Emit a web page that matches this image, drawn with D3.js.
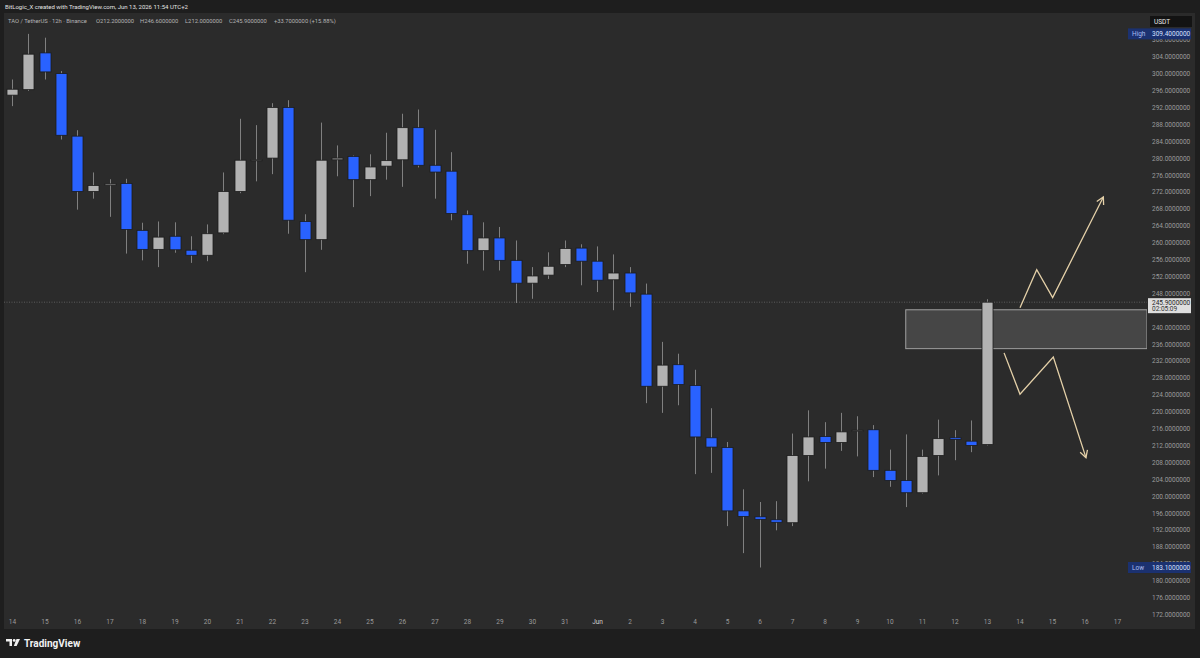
<!DOCTYPE html>
<html>
<head>
<meta charset="utf-8">
<script src="https://cdn.jsdelivr.net/npm/d3@7"></script>
<style>
html,body{margin:0;padding:0;background:#1e1e1e;}
svg{display:block;font-family:Roboto,"Liberation Sans",sans-serif;}
</style>
</head>
<body>
<svg id="chart"></svg>
<script>
// TAO / TetherUS 12h candles, May 14 00:00 -> Jun 13 00:00
var opens  = [294.9,296.2,304.9,300.0,285.2,272.1,273.6,274.0,262.9,258.4,
              261.5,258.2,257.0,262.3,272.1,279.5,280.0,292.0,265.0,260.7,
              279.6,280.4,274.9,278.1,279.6,287.2,278.3,276.9,266.6,258.1,
              261.1,255.8,250.4,252.3,254.8,258.7,255.6,251.2,252.8,247.8,
              226.0,231.1,226.2,213.8,211.5,196.5,195.1,194.4,193.7,209.6,
              214.1,212.7,215.5,215.7,206.1,203.7,200.8,209.6,213.8,213.0,
              212.2];
var highs  = [298.6,309.4,308.5,300.6,286.6,276.6,275.0,275.1,264.7,265.0,
              264.8,261.5,264.3,276.6,289.3,287.8,293.0,293.7,266.7,288.4,
              283.0,280.6,280.9,286.0,290.5,291.5,286.7,281.4,267.6,264.8,
              263.7,260.5,254.2,257.7,260.5,259.6,259.1,257.2,254.2,250.3,
              236.5,233.7,229.9,220.8,212.8,201.6,198.6,198.8,214.8,220.3,
              217.5,219.7,218.9,216.8,211.0,214.6,211.0,218.1,215.6,217.9,
              246.6];
var lows   = [292.3,295.9,298.6,284.4,267.8,270.4,266.1,257.4,255.8,254.2,
              257.6,255.2,255.6,262.0,271.7,274.5,276.2,262.1,253.0,258.3,
              275.7,268.4,271.0,274.9,273.2,277.8,270.4,265.3,255.0,253.4,
              253.4,245.7,246.7,251.4,254.2,249.9,248.3,244.0,244.8,222.0,
              219.7,221.5,205.2,205.5,192.9,186.5,183.1,191.9,192.9,203.5,
              206.5,210.7,209.4,204.5,202.2,197.4,200.6,204.9,208.5,210.4,
              212.0];
var closes = [296.3,304.6,300.4,285.4,272.1,273.5,273.9,263.1,258.4,261.3,
              258.3,257.0,262.1,272.1,279.5,279.6,292.0,265.3,260.7,279.5,
              280.0,274.9,277.9,279.4,287.2,278.3,276.7,266.9,258.1,261.1,
              255.8,250.4,252.1,254.4,258.6,255.6,251.1,252.8,248.1,226.0,
              231.0,226.4,214.0,211.6,196.5,195.2,194.5,193.8,209.6,214.0,
              212.7,215.2,215.6,206.1,203.7,200.8,209.4,213.6,213.4,212.0,
              245.9];

// one label per day (every second 12h slot)
var dayLabels = ["14","15","16","17","18","19","20","21","22","23","24","25",
                 "26","27","28","29","30","31","Jun","2","3","4","5","6","7",
                 "8","9","10","11","12","13","14","15","16","17"];
// 244 sits under the last price label, so it is left out like on the reference
var priceTicks = [172,176,180,184,188,192,196,200,204,208,212,216,220,224,228,
                  232,236,240,248,252,256,260,264,268,272,276,280,284,288,
                  292,296,300,304,308];

// drawings: [slot index, price]
var zoneBox = {from:55, top:244.1, bottom:234.9};
var upPath   = [[62.03,244.6],[63.06,253.6],[64.04,247.0],[67.16,270.8]];
var downPath = [[61.05,233.9],[62.03,224.1],[64.08,232.9],[66.09,209.1]];

var lastPrice = 245.9;
var highMark = 309.4, lowMark = 183.1;

var W = 1200, H = 658;
var plot = {left:4, top:13, right:1147, bottom:617};

var blue = "#2962ff", grey = "#b2b2b2";

var svg = d3.select("#chart").attr("width", W).attr("height", H);

// backgrounds
svg.append("rect").attr("width", W).attr("height", H).attr("fill", "#1e1e1e");
svg.append("rect")
    .attr("x", plot.left).attr("y", plot.top)
    .attr("width", 1195 - plot.left).attr("height", 629 - plot.top)
    .attr("fill", "#2b2b2b");

var x = d3.scaleLinear().domain([0, 68]).range([12, 1117]);
var y = d3.scaleLinear().domain([172, 308]).range([614.4, 39.8]);

var defs = svg.append("defs");
defs.append("clipPath").attr("id", "plotclip")
    .append("rect")
    .attr("x", plot.left).attr("y", plot.top)
    .attr("width", plot.right - plot.left).attr("height", plot.bottom - plot.top);
defs.append("clipPath").attr("id", "axisclip")
    .append("rect")
    .attr("x", plot.right).attr("y", plot.top)
    .attr("width", 1195 - plot.right).attr("height", plot.bottom - plot.top);

var g = svg.append("g").attr("clip-path", "url(#plotclip)");

// last price dotted line
g.append("line")
    .attr("x1", plot.left).attr("x2", plot.right)
    .attr("y1", y(lastPrice)).attr("y2", y(lastPrice))
    .attr("stroke", "#6a6a6a")
    .attr("stroke-width", 0.8)
    .attr("stroke-dasharray", "1,1.5");

// zone rectangle
g.append("rect")
    .attr("x", x(zoneBox.from))
    .attr("y", y(zoneBox.top))
    .attr("width", plot.right - x(zoneBox.from))
    .attr("height", y(zoneBox.bottom) - y(zoneBox.top))
    .attr("fill", "#464646")
    .attr("stroke", "#a0a0a0")
    .attr("stroke-width", 1);

var idx = d3.range(opens.length);

// wicks
g.selectAll(".wick")
    .data(idx)
    .enter()
    .append("line")
    .attr("class", "wick")
    .attr("x1", function(i){ return Math.round(x(i)) + 0.5; })
    .attr("x2", function(i){ return Math.round(x(i)) + 0.5; })
    .attr("y1", function(i){ return y(highs[i]); })
    .attr("y2", function(i){ return y(lows[i]); })
    .attr("stroke", "#808080")
    .attr("stroke-width", 1);

// bodies
var bw = 11;
g.selectAll(".body")
    .data(idx)
    .enter()
    .append("rect")
    .attr("class", "body")
    .attr("x", function(i){ return Math.round(x(i)) + 0.5 - bw/2; })
    .attr("y", function(i){ return y(Math.max(opens[i], closes[i])); })
    .attr("width", bw)
    .attr("height", function(i){
        return Math.max(1, Math.abs(y(opens[i]) - y(closes[i])));
    })
    .attr("fill", function(i){ return closes[i] >= opens[i] ? grey : blue; })
    .attr("stroke", "#1c1c1c")
    .attr("stroke-width", 0.8);

// projection arrows
var line = d3.line()
    .x(function(d){ return x(d[0]); })
    .y(function(d){ return y(d[1]); });

var drawArrow = function(pts)
{
    g.append("path")
        .attr("d", line(pts))
        .attr("fill", "none")
        .attr("stroke", "#e4d0a8")
        .attr("stroke-width", 1.3);
    var a = pts[pts.length - 2], b = pts[pts.length - 1];
    var x1 = x(a[0]), y1 = y(a[1]), x2 = x(b[0]), y2 = y(b[1]);
    var ang = Math.atan2(y2 - y1, x2 - x1);
    var len = 8, spread = 0.5;
    var head = [
        [x2 - len*Math.cos(ang - spread), y2 - len*Math.sin(ang - spread)],
        [x2, y2],
        [x2 - len*Math.cos(ang + spread), y2 - len*Math.sin(ang + spread)]
    ];
    g.append("path")
        .attr("d", d3.line()(head))
        .attr("fill", "none")
        .attr("stroke", "#e4d0a8")
        .attr("stroke-width", 1.3);
};
drawArrow(upPath);
drawArrow(downPath);

// price axis
var yAxis = d3.axisRight(y)
    .tickValues(priceTicks)
    .tickSize(0)
    .tickPadding(5)
    .tickFormat(d3.format(".7f"));

var ya = svg.append("g")
    .attr("clip-path", "url(#axisclip)")
    .append("g")
    .attr("transform", "translate(" + plot.right + ",0)")
    .call(yAxis);
ya.select(".domain").remove();
ya.selectAll("text")
    .attr("fill", "#9c9c9c")
    .attr("font-size", "6.5px")
    .attr("font-family", "Roboto, sans-serif");

// time axis
var tickIdx = dayLabels.map(function(d, k){ return k*2; });
var xAxis = d3.axisBottom(x)
    .tickValues(tickIdx)
    .tickSize(0)
    .tickPadding(0)
    .tickFormat(function(d){ return dayLabels[d/2]; });

var xa = svg.append("g")
    .attr("transform", "translate(0,619)")
    .call(xAxis);
xa.select(".domain").remove();
xa.selectAll("text")
    .attr("fill", function(d){ return dayLabels[d/2] == "Jun" ? "#d0d0d0" : "#9c9c9c"; })
    .attr("font-size", "6.5px")
    .attr("font-family", "Roboto, sans-serif");

// high / low markers
var markBox = function(label, price)
{
    var cy = y(price);
    svg.append("rect")
        .attr("x", 1128).attr("y", cy - 5.5)
        .attr("width", 63).attr("height", 11)
        .attr("fill", "#1b3170");
    svg.append("text")
        .attr("x", 1132).attr("y", cy + 2.3)
        .attr("fill", "#a9bdf0")
        .attr("font-size", "6.5px")
        .text(label);
    svg.append("text")
        .attr("x", plot.right + 5).attr("y", cy + 2.3)
        .attr("fill", "#d6e0ff")
        .attr("font-size", "6.5px")
        .text(d3.format(".7f")(price));
};
markBox("High", highMark);
markBox("Low", lowMark);

// last price label
var ly = y(lastPrice);
svg.append("rect")
    .attr("x", 1148).attr("y", ly - 4)
    .attr("width", 43).attr("height", 15)
    .attr("fill", "#dedede");
svg.append("text")
    .attr("x", 1152).attr("y", ly + 2.4)
    .attr("fill", "#1e1e1e")
    .attr("font-size", "6.5px")
    .text(d3.format(".7f")(lastPrice));
svg.append("text")
    .attr("x", 1152).attr("y", ly + 9.2)
    .attr("fill", "#333")
    .attr("font-size", "6.5px")
    .text("02:05:09");

// currency box
svg.append("rect")
    .attr("x", 1150).attr("y", 16)
    .attr("width", 42).attr("height", 11)
    .attr("fill", "#131313");
svg.append("text")
    .attr("x", 1154).attr("y", 23.8)
    .attr("fill", "#e8e8e8")
    .attr("font-size", "6.5px")
    .text("USDT");

// header texts
svg.append("text")
    .attr("x", 5).attr("y", 8.8)
    .attr("fill", "#e2e2e2")
    .attr("font-size", "6px")
    .text("BitLogic_X created with TradingView.com, Jun 13, 2026 11:54 UTC+2");

var legend = [
    {x:8,   t:"TAO / TetherUS \u00b7 12h \u00b7 Binance"},
    {x:96,  t:"O212.2000000"},
    {x:140, t:"H246.6000000"},
    {x:185, t:"L212.0000000"},
    {x:229, t:"C245.9000000"},
    {x:274, t:"+33.7000000 (+15.88%)"}
];
svg.selectAll(".legend")
    .data(legend)
    .enter()
    .append("text")
    .attr("class", "legend")
    .attr("x", function(d){ return d.x; })
    .attr("y", 22.8)
    .attr("fill", "#b4b4b4")
    .attr("font-size", "5.8px")
    .text(function(d){ return d.t; });

// TradingView logo in footer
var logo = svg.append("g").attr("transform", "translate(6,639)");
logo.append("path")
    .attr("d", "M0,0 H6 V7 H3.5 V2.4 H0 Z")
    .attr("fill", "#f0f0f0");
logo.append("circle")
    .attr("cx", 8.2).attr("cy", 1.4).attr("r", 1.4)
    .attr("fill", "#f0f0f0");
logo.append("path")
    .attr("d", "M10.5,0 H14 L10.6,7 H7.8 Z")
    .attr("fill", "#f0f0f0");
svg.append("text")
    .attr("x", 24).attr("y", 646.5)
    .attr("fill", "#f2f2f2")
    .attr("font-size", "10px")
    .attr("font-weight", "700")
    .text("TradingView");
</script>
</body>
</html>
